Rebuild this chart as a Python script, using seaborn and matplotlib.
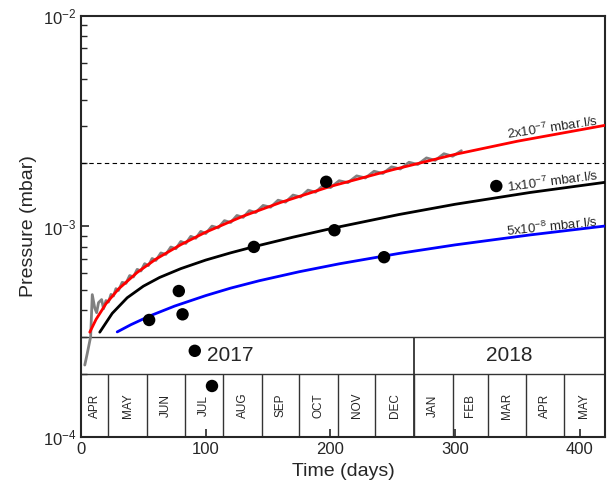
import matplotlib
matplotlib.use('Agg')
import matplotlib.pyplot as plt
import seaborn as sns

# days counted from 9 Apr 2017, pressure in mbar
gray_days = [3, 5, 7.7, 9, 11, 12.5, 14, 16.5, 18, 20, 22, 24, 26, 28, 30, 33, 36, 39,
             42, 45, 48, 51, 54, 57, 60, 64, 68, 72, 76, 80, 84, 88, 92, 96, 100, 105,
             110, 115, 120, 125, 130, 135, 140, 146, 152, 158, 164, 170, 176, 182, 188,
             194, 200, 207, 214, 221, 228, 235, 242, 249, 256, 263, 270, 277, 284, 291,
             298, 305]
gray_p = [2.2e-4, 2.5e-4, 3.0e-4, 4.75e-4, 4.1e-4, 3.9e-4, 4.35e-4, 4.5e-4, 4.07e-4, 4.45e-4,
          4.38e-4, 4.76e-4, 4.68e-4, 5.07e-4, 4.97e-4, 5.43e-4, 5.37e-4, 5.85e-4, 5.76e-4,
          6.26e-4, 6.15e-4, 6.66e-4, 6.52e-4, 7.05e-4, 6.9e-4, 7.49e-4, 7.37e-4, 7.99e-4,
          7.84e-4, 8.49e-4, 8.31e-4, 8.98e-4, 8.79e-4, 9.48e-4, 9.26e-4, 1.004e-3, 9.85e-4,
          1.066e-3, 1.045e-3, 1.128e-3, 1.105e-3, 1.19e-3, 1.165e-3, 1.259e-3, 1.235e-3,
          1.333e-3, 1.305e-3, 1.41e-3, 1.38e-3, 1.488e-3, 1.455e-3, 1.566e-3, 1.53e-3,
          1.649e-3, 1.615e-3, 1.739e-3, 1.70e-3, 1.829e-3, 1.785e-3, 1.919e-3, 1.875e-3,
          2.018e-3, 1.97e-3, 2.116e-3, 2.06e-3, 2.215e-3, 2.155e-3, 2.29e-3]

# model curves for three leak rates
red_days = [7, 12, 20, 30, 45, 60, 80, 100, 130, 160, 200, 250, 300, 350, 420]
red_p = [3.15e-4, 3.62e-4, 4.3e-4, 5.05e-4, 6.05e-4, 7.0e-4, 8.2e-4, 9.4e-4, 1.12e-3,
         1.3e-3, 1.55e-3, 1.86e-3, 2.2e-3, 2.54e-3, 3.02e-3]
black_days = [15, 25, 37, 50, 63, 80, 100, 120, 139, 170, 203, 255, 300, 360, 420]
black_p = [3.15e-4, 3.87e-4, 4.59e-4, 5.21e-4, 5.73e-4, 6.31e-4, 6.93e-4, 7.5e-4, 8.03e-4,
           8.9e-4, 9.85e-4, 1.14e-3, 1.275e-3, 1.45e-3, 1.62e-3]
blue_days = [29, 40, 55, 75, 100, 120, 143, 175, 207, 255, 300, 360, 420]
blue_p = [3.16e-4, 3.42e-4, 3.76e-4, 4.19e-4, 4.7e-4, 5.1e-4, 5.53e-4, 6.1e-4, 6.65e-4,
          7.45e-4, 8.18e-4, 9.12e-4, 1.005e-3]

# spot measurements
dot_days = [54.6, 78.4, 81.4, 91.2, 105, 138.6, 196.6, 203.2, 243, 333]
dot_p = [3.6e-4, 4.94e-4, 3.83e-4, 2.57e-4, 1.75e-4, 8.0e-4, 1.63e-3, 9.6e-4, 7.15e-4,
         1.556e-3]

months = ['APR', 'MAY', 'JUN', 'JUL', 'AUG', 'SEP', 'OCT', 'NOV', 'DEC',
          'JAN', 'FEB', 'MAR', 'APR', 'MAY']
month_edges = [0, 22, 53, 83, 114, 145, 175, 206, 236, 267, 298, 326, 357, 387, 420]
years = ['2017', '2018']
year_pos = [120, 343]
year_split = 267

limit = 2e-3
rate_labels = [r'2x10$^{-7}$ mbar.l/s', r'1x10$^{-7}$ mbar.l/s', r'5x10$^{-8}$ mbar.l/s']
rate_label_y = [2.94e-3, 1.64e-3, 1.0e-3]

sns.set_style('ticks')
plt.rcParams['font.family'] = ['Liberation Sans', 'DejaVu Sans']
plt.rcParams['mathtext.fontset'] = 'custom'
plt.rcParams['mathtext.rm'] = 'Liberation Sans'
plt.rcParams['mathtext.it'] = 'Liberation Sans:italic'

fig = plt.figure(figsize=(6.14, 4.94), dpi=100)
ax = fig.add_axes([0.132, 0.115, 0.853, 0.853])

sns.lineplot(x=gray_days, y=gray_p, color='#808080', lw=2, ax=ax, zorder=3)
sns.lineplot(x=red_days, y=red_p, color='red', lw=2, ax=ax, zorder=4)
sns.lineplot(x=black_days, y=black_p, color='black', lw=2, ax=ax, zorder=4)
sns.lineplot(x=blue_days, y=blue_p, color='blue', lw=2, ax=ax, zorder=4)
sns.scatterplot(x=dot_days, y=dot_p, color='black', s=80, edgecolor='none', ax=ax, zorder=5)

ax.axhline(limit, color='black', lw=0.8, ls=(0, (4, 3)), zorder=2)

# calendar table along the bottom
ax.axhline(3e-4, color='#333333', lw=1, zorder=1)
ax.axhline(2e-4, color='#333333', lw=1, zorder=1)
ax.vlines(month_edges[1:-1], 1e-4, 2e-4, color='#333333', lw=1, zorder=1)
ax.vlines(year_split, 1e-4, 3e-4, color='#333333', lw=1.3, zorder=1)
for i, m in enumerate(months):
    xc = (month_edges[i] + month_edges[i + 1]) / 2
    ax.text(xc, 1.414e-4, m, rotation=90, ha='center', va='center', fontsize=8.5)
for y, xp in zip(years, year_pos):
    ax.text(xp, 2.45e-4, y, ha='center', va='center', fontsize=15)

rots = [8.5, 7.5, 6]
for lab, yy, r in zip(rate_labels, rate_label_y, rots):
    ax.text(378, yy, lab, ha='center', va='center', rotation=r, fontsize=9.5,
            rotation_mode='anchor')

ax.set_yscale('log')
ax.set_xlim(0, 420)
ax.set_ylim(1e-4, 1e-2)
ax.set_xticks([0, 100, 200, 300, 400])
ax.tick_params(axis='both', which='major', direction='in', length=6, width=1.2,
               labelsize=12, top=False, right=False)
ax.tick_params(axis='y', which='minor', direction='in', length=4, width=1, right=False)
ax.tick_params(axis='x', which='minor', bottom=False)
for s in ax.spines.values():
    s.set_linewidth(1.5)
    s.set_visible(True)
ax.set_xlabel('Time (days)', fontsize=14)
ax.set_ylabel('Pressure (mbar)', fontsize=14)

fig.savefig('out.png', dpi=100)
